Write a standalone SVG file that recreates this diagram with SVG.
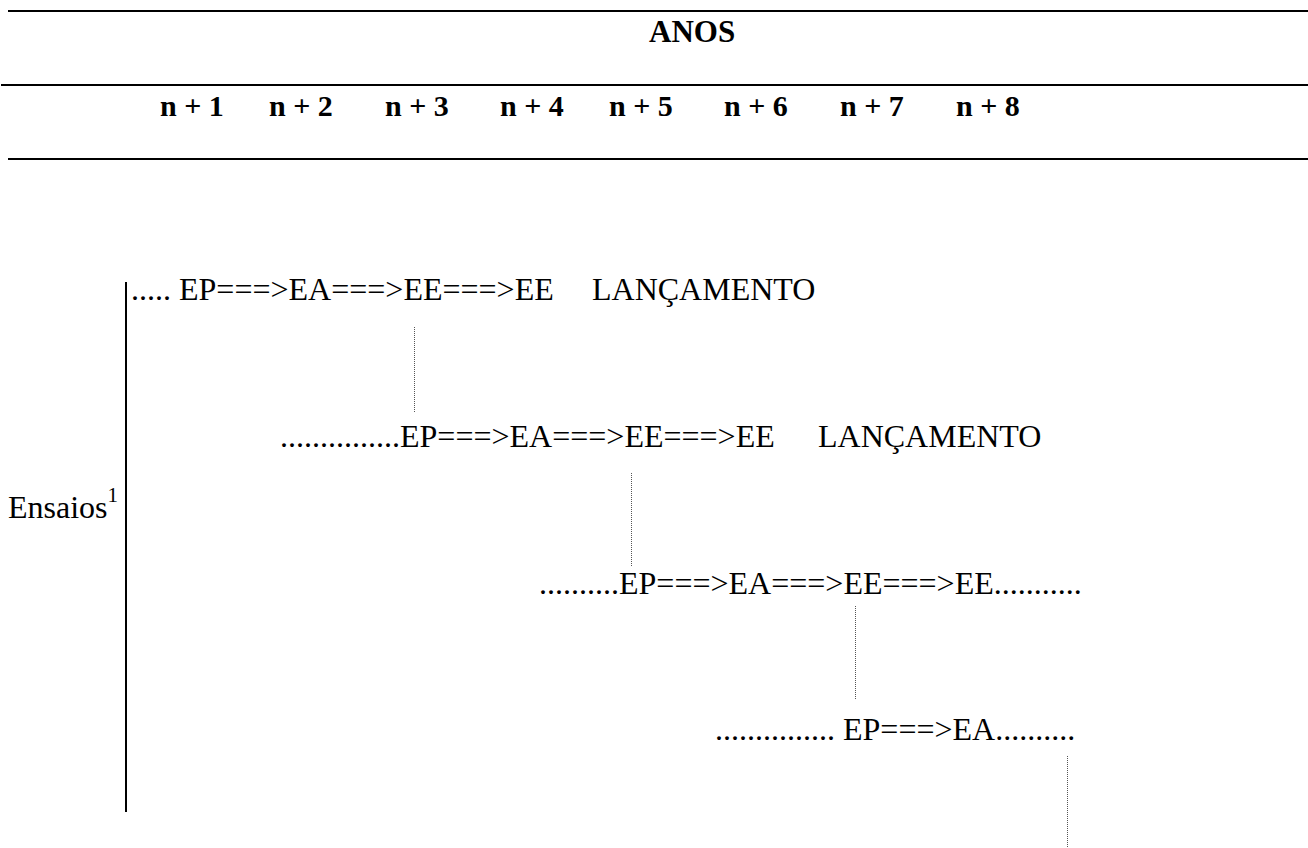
<svg xmlns="http://www.w3.org/2000/svg" width="1308" height="848" viewBox="0 0 1308 848">
<style>
.rule{stroke:#000;stroke-width:2.2;fill:none}
.bar{stroke:#000;stroke-width:2;fill:none}
.dot{stroke:#555;stroke-width:1;stroke-dasharray:1 1;fill:none}
.hdr{font-family:"Liberation Serif","Times New Roman",serif;font-weight:bold;fill:#000}
.t{font-family:"Liberation Serif","Times New Roman",serif;font-size:32px;fill:#000}
</style>
<rect width="1308" height="848" fill="#fff"/>
<g id="header">
<line class="rule" x1="8" y1="11" x2="1308" y2="11"/>
<line class="rule" x1="1" y1="85" x2="1308" y2="85"/>
<line class="rule" x1="8" y1="159" x2="1308" y2="159"/>
<text class="hdr" x="649" y="42" font-size="31">ANOS</text>
<g font-size="30" class="hdr" xml:space="preserve">
<text x="160" y="116">n + 1</text>
<text x="269" y="116">n + 2</text>
<text x="385" y="116">n + 3</text>
<text x="500" y="116">n + 4</text>
<text x="609" y="116">n +  5</text>
<text x="724" y="116">n + 6</text>
<text x="840" y="116">n + 7</text>
<text x="956" y="116">n + 8</text>
</g>
</g>
<g id="axis">
<line class="bar" x1="126" y1="282" x2="126" y2="812"/>
<text class="t" x="8" y="518">Ensaios<tspan font-size="21" dy="-16">1</tspan></text>
</g>
<g id="row1">
<text class="t" x="131" y="300">..... EP===&gt;EA===&gt;EE===&gt;EE</text>
<text class="t" x="592" y="300">LANÇAMENTO</text>
</g>
<g id="row2">
<text class="t" x="280" y="447">...............EP===&gt;EA===&gt;EE===&gt;EE</text>
<text class="t" x="818" y="447">LANÇAMENTO</text>
</g>
<g id="row3">
<text class="t" x="539" y="594">..........EP===&gt;EA===&gt;EE===&gt;EE...........</text>
</g>
<g id="row4">
<text class="t" x="715" y="740">............... EP===&gt;EA..........</text>
</g>
<g id="connectors">
<line class="dot" x1="414.5" y1="327" x2="414.5" y2="412"/>
<line class="dot" x1="631.5" y1="473" x2="631.5" y2="567"/>
<line class="dot" x1="855.5" y1="606" x2="855.5" y2="699"/>
<line class="dot" x1="1067.5" y1="756" x2="1067.5" y2="848"/>
</g>
</svg>
